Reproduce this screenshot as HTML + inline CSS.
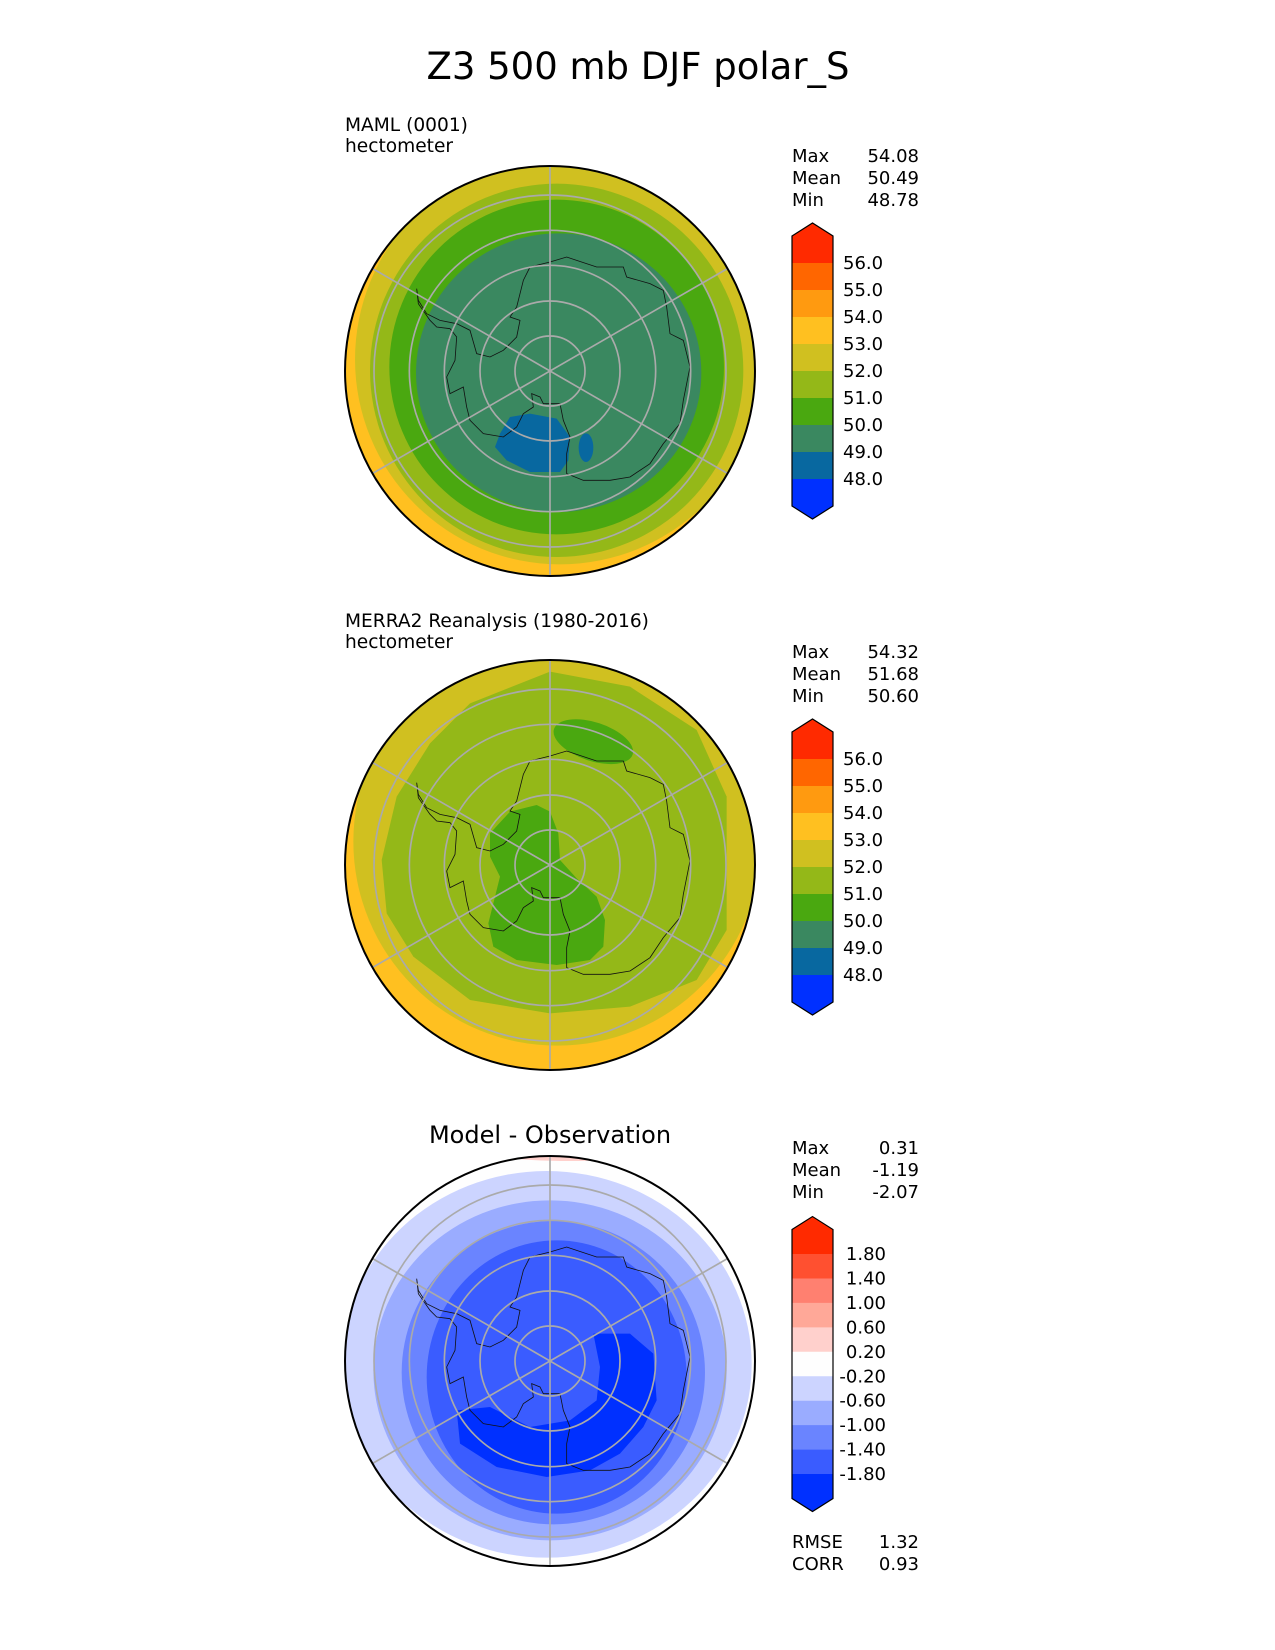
<!DOCTYPE html>
<html><head><meta charset="utf-8"><style>
html,body{margin:0;padding:0;background:#fff;}
svg{display:block;font-family:"DejaVu Sans","Liberation Sans",sans-serif;}
</style></head><body>
<svg id="fig" width="1275" height="1650" viewBox="0 0 1275 1650" xmlns="http://www.w3.org/2000/svg">
<defs>
<clipPath id="c1"><circle cx="0" cy="0" r="615"/></clipPath>
<path id="coast" d="M260,385 L265,430 L300,480 L320,500 L360,505 L380,530 L375,600 L350,650 L360,700 L400,680 L410,740 L420,780 L460,820 L520,830 L560,800 L580,760 L610,740 L605,700 L630,710 L640,730 L690,730 L700,780 L720,830 L710,880 L710,940 L760,960 L840,960 L900,950 L960,910 L1000,850 L1050,790 L1060,720 L1080,620 L1060,540 L1020,520 L1010,440 L1000,390 L960,370 L890,350 L880,320 L800,320 L740,300 L710,290 L660,305 L600,320 L580,360 L560,440 L540,470 L570,480 L560,530 L520,570 L480,590 L440,580 L420,510 L380,490 L330,480 L290,460 L265,420 Z" transform="translate(-660,-632)" fill="none" stroke="#111" stroke-width="2.4"/>
</defs>
<text x="638" y="79" font-size="37" text-anchor="middle">Z3 500 mb DJF polar_S</text>

<!-- Panel 1 -->
<text x="345" y="131" font-size="18.6">MAML (0001)</text>
<text x="345" y="152" font-size="18.6">hectometer</text>
<g transform="translate(550,371) scale(0.3333)">
 <g clip-path="url(#c1)">
  <circle r="615" fill="#ffc020"/>
  <circle cx="30" cy="-35" r="615" fill="#d0c020"/>
  <circle cx="20" cy="-2" r="560" fill="#94b818"/>
  <circle cx="20" cy="-12" r="502" fill="#4aa810"/>
  <ellipse cx="26" cy="5" rx="428" ry="418" fill="#3a8860"/>
  <path d="M540,770 L600,760 L680,775 L720,830 L715,900 L690,935 L600,935 L530,900 L495,860 L510,820 Z" transform="translate(-660,-632)" fill="#0868a0"/>
  <ellipse cx="108" cy="230" rx="22" ry="43" fill="#0868a0"/>
  <use href="#coast"/>
  <g class="grid" fill="none" stroke="#aaa" stroke-width="5"></g>
 </g>
 <circle r="615" fill="none" stroke="#000" stroke-width="6"/>
</g>

<!-- Panel 2 -->
<text x="345" y="627" font-size="18.6">MERRA2 Reanalysis (1980-2016)</text>
<text x="345" y="648" font-size="18.6">hectometer</text>
<g transform="translate(550,865) scale(0.3333)">
 <g clip-path="url(#c1)">
  <circle r="615" fill="#ffc020"/>
  <circle cx="22" cy="-70" r="612" fill="#d0c020"/>
  <path d="M155,690 L200,500 L300,340 L420,220 L660,125 L900,170 L1100,300 L1190,500 L1190,900 L1100,1050 L900,1130 L660,1150 L420,1110 L250,980 L170,850 Z" transform="translate(-660,-705)" fill="#94b818"/>
  <ellipse cx="130" cy="-370" rx="124" ry="58" transform="rotate(18 130 -370)" fill="#4aa810"/>
  <path d="M540,545 L620,525 L660,545 L685,610 L690,690 L740,745 L800,800 L825,870 L820,950 L780,990 L680,1005 L560,990 L490,950 L475,880 L495,800 L510,740 L480,680 L480,610 Z" transform="translate(-660,-705)" fill="#4aa810"/>
  <use href="#coast"/>
  <g class="grid" fill="none" stroke="#aaa" stroke-width="5"></g>
 </g>
 <circle r="615" fill="none" stroke="#000" stroke-width="6"/>
</g>

<!-- Panel 3 -->
<text x="550" y="1143" font-size="24" text-anchor="middle">Model - Observation</text>
<g transform="translate(550,1361) scale(0.3333)">
 <g clip-path="url(#c1)">
  <circle r="615" fill="#fefefe"/>
  <ellipse cx="60" cy="-640" rx="300" ry="40" fill="#ffd0cc"/>
  <ellipse cx="-10" cy="10" rx="615" ry="580" fill="#ccd4ff"/>
  <ellipse cx="0" cy="28" rx="530" ry="510" fill="#9aacff"/>
  <ellipse cx="10" cy="35" rx="455" ry="455" fill="#6a84ff"/>
  <ellipse cx="20" cy="48" rx="390" ry="410" fill="#3a5cff"/>
  <path d="M790,700 L900,700 L970,760 L980,900 L940,980 L870,1060 L780,1110 L650,1130 L500,1100 L390,1030 L380,930 L480,920 L600,980 L720,960 L800,900 L810,800 Z" transform="translate(-660,-782)" fill="#0030ff"/>
  <use href="#coast"/>
  <g class="grid" fill="none" stroke="#aaa" stroke-width="5"></g>
 </g>
 <circle r="615" fill="none" stroke="#000" stroke-width="6"/>
</g>

<g id="bars"></g>
</svg>
<script>
const NS='http://www.w3.org/2000/svg';
const absLevels=['56.0','55.0','54.0','53.0','52.0','51.0','50.0','49.0','48.0'];
const absColors=['#ff2a00','#ff6600','#ff9a10','#ffc020','#d0c020','#94b818','#4aa810','#3a8860','#0868a0','#0030ff'];
const diffLevels=['1.80','1.40','1.00','0.60','0.20','-0.20','-0.60','-1.00','-1.40','-1.80'];
const diffColors=['#ff2a00','#ff5030','#ff8070','#ffa898','#ffd0cc','#fefefe','#ccd4ff','#9aacff','#6a84ff','#3a5cff','#0030ff'];
const statLabels=['Max','Mean','Min'];
const stats1=['54.08','50.49','48.78'];
const stats2=['54.32','51.68','50.60'];
const stats3=['0.31','-1.19','-2.07'];
const metricLabels=['RMSE','CORR'];
const metrics=['1.32','0.93'];
const gridRadii=[105,210,317,422,528];
const gridAngles=[90,30,-30];

document.querySelectorAll('.grid').forEach(g=>{
  gridRadii.forEach(r=>{const c=document.createElementNS(NS,'circle');c.setAttribute('r',r);
    
    
    g.appendChild(c);});
  gridAngles.forEach(a=>{const t=a*Math.PI/180,l=document.createElementNS(NS,'line');
    l.setAttribute('x1',-700*Math.cos(t));l.setAttribute('y1',-700*Math.sin(t));
    l.setAttribute('x2',700*Math.cos(t));l.setAttribute('y2',700*Math.sin(t));
    
    
    g.appendChild(l);});
});
const bars=document.getElementById('bars');
function txt(x,y,s,anchor,size){const t=document.createElementNS(NS,'text');t.setAttribute('x',x);t.setAttribute('y',y);
  t.setAttribute('font-size',size||18);if(anchor)t.setAttribute('text-anchor',anchor);t.textContent=s;bars.appendChild(t);return t;}
function colorbar(name,levels,colors,firstY,step,labX,labAnchor){
  const g=document.createElementNS(NS,'g');
  
  
  bars.appendChild(g);
  const x0=792,x1=833,xm=(x0+x1)/2,tip=13;
  colors.forEach((c,i)=>{
    const yTop=firstY+(i-1)*step,yBot=yTop+step;
    const p=document.createElementNS(NS,'path');
    let d;
    if(i===0)d=`M${x0},${yBot}L${x0},${yTop}L${xm},${yTop-tip}L${x1},${yTop}L${x1},${yBot}Z`;
    else if(i===colors.length-1)d=`M${x0},${yTop}L${x0},${yBot}L${xm},${yBot+tip}L${x1},${yBot}L${x1},${yTop}Z`;
    else d=`M${x0},${yTop}H${x1}V${yBot+0.5}H${x0}Z`;
    p.setAttribute('d',d);p.setAttribute('fill',c);
    
    
    g.appendChild(p);
  });
  const n=colors.length,top=firstY-step,bot=firstY+(n-1)*step;
  const o=document.createElementNS(NS,'path');
  o.setAttribute('d',`M${x0},${top}L${xm},${top-tip}L${x1},${top}L${x1},${bot}L${xm},${bot+tip}L${x0},${bot}Z`);
  o.setAttribute('fill','none');o.setAttribute('stroke','#000');o.setAttribute('stroke-width','1.2');
  
  
  g.appendChild(o);
  levels.forEach((s,i)=>{const t=txt(labX,firstY+i*step+6,s,labAnchor);
    
    });
}
function statsBlock(y0,labels,vals){labels.forEach((l,i)=>{
  const a=txt(792,y0+i*22,l);
  
  
  const b=txt(919,y0+i*22,vals[i],'end');
  
  });}
statsBlock(162,statLabels,stats1);
statsBlock(658,statLabels,stats2);
statsBlock(1154,statLabels,stats3);
statsBlock(1548,metricLabels,metrics);
colorbar('colorbar-panel1',absLevels,absColors,263,27,843,null);
colorbar('colorbar-panel2',absLevels,absColors,759,27,843,null);
colorbar('colorbar-panel3',diffLevels,diffColors,1254,24.45,886,'end');
</script>
</body></html>
